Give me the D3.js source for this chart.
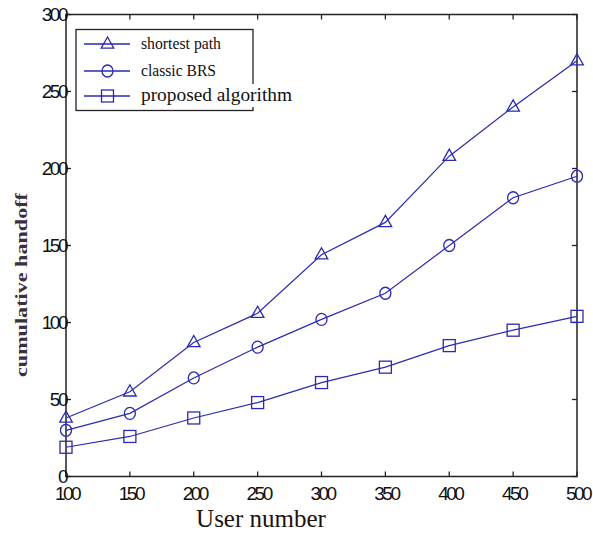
<!DOCTYPE html>
<html><head><meta charset="utf-8">
<script src="https://cdn.jsdelivr.net/npm/d3@7"></script>
<style>body{margin:0;background:#fff}</style>
</head><body>
<svg id="c" width="593" height="536"></svg>
<script>
const users = [100,150,200,250,300,350,400,450,500];
const shortestPath = [38,55,87,106,144,165,208,240,270];
const classicBRS = [30,41,64,84,102,119,150,181,195];
const proposed = [19,26,38,48,61,71,85,95,104];
const xTicks = [100,150,200,250,300,350,400,450,500];
const yTicks = [0,50,100,150,200,250,300];
const seriesNames = ["shortest path","classic BRS","proposed algorithm"];
const seriesMarkers = ["triangle","circle","square"];

const svg = d3.select("#c");
const L=66, R=577, T=14.5, B=476.5;
const x = d3.scaleLinear().domain([100,500]).range([L,R]);
const y = d3.scaleLinear().domain([0,300]).range([B,T]);
const blue = "#2b2bb0";
const axisCol = "#222";

svg.append("rect").attr("x",L).attr("y",T).attr("width",R-L).attr("height",B-T)
  .attr("fill","none").attr("stroke",axisCol).attr("stroke-width",1.5);

const tl = 5;
const tickFont = "'Liberation Sans', Arial, sans-serif";
xTicks.forEach(v=>{
  svg.append("line").attr("x1",x(v)).attr("x2",x(v)).attr("y1",B).attr("y2",B-tl).attr("stroke",axisCol).attr("stroke-width",1.3);
  svg.append("line").attr("x1",x(v)).attr("x2",x(v)).attr("y1",T).attr("y2",T+tl).attr("stroke",axisCol).attr("stroke-width",1.3);
  svg.append("text").attr("x",x(v)+1).attr("y",B+23).attr("text-anchor","middle")
    .attr("font-family",tickFont).attr("font-size",19).attr("letter-spacing",-2.5).attr("fill","#111").text(v);
});
yTicks.forEach(v=>{
  svg.append("line").attr("x1",L).attr("x2",L+tl).attr("y1",y(v)).attr("y2",y(v)).attr("stroke",axisCol).attr("stroke-width",1.3);
  svg.append("line").attr("x1",R).attr("x2",R-tl).attr("y1",y(v)).attr("y2",y(v)).attr("stroke",axisCol).attr("stroke-width",1.3);
  svg.append("text").attr("x",L).attr("y",y(v)+6).attr("text-anchor","end")
    .attr("font-family",tickFont).attr("font-size",19).attr("letter-spacing",-2.5).attr("fill","#111").text(v);
});

svg.append("text").attr("x",261).attr("y",527).attr("text-anchor","middle")
  .attr("font-family","'Liberation Serif','Times New Roman',serif").attr("font-size",25).attr("fill","#1a1212").text("User number");
svg.append("text").attr("transform","translate(27,285) rotate(-90)").attr("text-anchor","middle")
  .attr("font-family","'Liberation Serif','Times New Roman',serif").attr("font-weight","bold").attr("font-size",17)
  .attr("textLength",184).attr("lengthAdjust","spacingAndGlyphs")
  .attr("fill","#3a3040").text("cumulative handoff");

function marker(g, type, cx, cy){
  if(type==="triangle"){
    const s=7;
    g.append("path").attr("d",`M${cx},${cy-s}L${cx+s*0.9},${cy+s*0.6}L${cx-s*0.9},${cy+s*0.6}Z`)
      .attr("fill","none").attr("stroke",blue).attr("stroke-width",1.3);
  } else if(type==="circle"){
    g.append("ellipse").attr("cx",cx).attr("cy",cy).attr("rx",5.5).attr("ry",6)
      .attr("fill","none").attr("stroke",blue).attr("stroke-width",1.3);
  } else {
    g.append("rect").attr("x",cx-6).attr("y",cy-6).attr("width",12).attr("height",12)
      .attr("fill","none").attr("stroke",blue).attr("stroke-width",1.3);
  }
}

const series = [shortestPath, classicBRS, proposed];
const line = d3.line().x((d,i)=>x(users[i])).y(d=>y(d));
series.forEach((s,k)=>{
  const g = svg.append("g");
  g.append("path").datum(s).attr("d",line).attr("fill","none").attr("stroke",blue).attr("stroke-width",1.2);
  s.forEach((v,i)=>marker(g, seriesMarkers[k], x(users[i]), y(v)));
});

const lg = svg.append("g");
lg.append("rect").attr("x",76).attr("y",29.5).attr("width",177).attr("height",81)
  .attr("fill","#fff").attr("stroke",axisCol).attr("stroke-width",1.3);
const rowY = [44,71,96];
seriesNames.forEach((n,k)=>{
  lg.append("line").attr("x1",84).attr("x2",130).attr("y1",rowY[k]).attr("y2",rowY[k]).attr("stroke",blue).attr("stroke-width",1.3);
  marker(lg, seriesMarkers[k], 107.5, rowY[k]);
});
lg.append("rect").attr("x",245).attr("y",84).attr("width",52).attr("height",23).attr("fill","#fff");
const legSize = [16,16,18];
const legLen = [80,75,151];
seriesNames.forEach((n,k)=>{
  lg.append("text").attr("x",141).attr("y",rowY[k]+5).attr("font-family","'Liberation Serif','Times New Roman',serif")
    .attr("font-size",legSize[k]).attr("textLength",legLen[k]).attr("lengthAdjust","spacingAndGlyphs")
    .attr("fill","#111").text(n);
});
</script>
</body></html>
